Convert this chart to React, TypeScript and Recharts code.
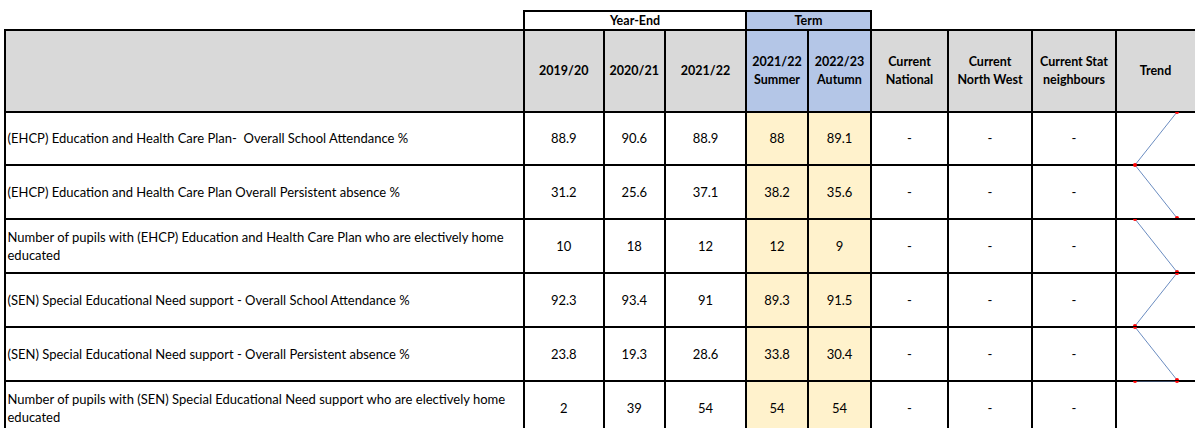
import React from 'react';
import { LineChart, Line, XAxis, YAxis } from 'recharts';

const years = ['2019/20', '2020/21', '2021/22'];
const terms = ['2021/22 Summer', '2022/23 Autumn'];
const comparators = ['Current National', 'Current North West', 'Current Stat neighbours'];

const measures = [
  '(EHCP) Education and Health Care Plan-  Overall School Attendance %',
  '(EHCP) Education and Health Care Plan Overall Persistent absence %',
  'Number of pupils with (EHCP) Education and Health Care Plan who are electively home educated',
  '(SEN) Special Educational Need support - Overall School Attendance %',
  '(SEN) Special Educational Need support - Overall Persistent absence %',
  'Number of pupils with (SEN) Special Educational Need support who are electively home educated',
];

const yearValues = [
  [88.9, 90.6, 88.9],
  [31.2, 25.6, 37.1],
  [10, 18, 12],
  [92.3, 93.4, 91],
  [23.8, 19.3, 28.6],
  [2, 39, 54],
];

const termValues = [
  [88, 89.1],
  [38.2, 35.6],
  [12, 9],
  [89.3, 91.5],
  [33.8, 30.4],
  [54, 54],
];

// table geometry (border centre lines)
const colX = [4.5, 524, 603.5, 665, 746, 808, 871, 948, 1032, 1116, 1195];
const rowY = [111.5, 164.5, 218.5, 272.5, 326.5, 380.5, 434.5];
const bandTop = 11;
const headTop = 30;

const FONT = 'Lato, "Open Sans", sans-serif';
const GREY = '#d9d9d9';
const BLUE = '#b4c6e7';
const CREAM = '#fff2cc';

function Cell({ x0, x1, y0, y1, bg, bold, align = 'center', children }: any) {
  return (
    <div
      style={{
        position: 'absolute',
        left: x0,
        top: y0,
        width: x1 - x0,
        height: y1 - y0,
        background: bg,
        display: 'flex',
        alignItems: 'center',
        justifyContent: align === 'left' ? 'flex-start' : 'center',
        textAlign: align,
        fontWeight: bold ? 700 : 400,
        fontSize: bold ? 12.5 : 13,
        lineHeight: '17.5px',
        whiteSpace: 'pre-wrap',
        padding: align === 'left' ? '2px 4px 0 3px' : bold ? '0 2px' : '2px 2px 0',
        boxSizing: 'border-box',
      }}
    >
      <span>{children}</span>
    </div>
  );
}

function HLine({ y, x0, x1 }: { y: number; x0: number; x1: number }) {
  return <div style={{ position: 'absolute', left: x0 - 1, top: y - 1, width: x1 - x0 + 2, height: 2, background: '#000' }} />;
}

function VLine({ x, y0, y1 }: { x: number; y0: number; y1: number }) {
  return <div style={{ position: 'absolute', left: x - 1, top: y0 - 1, width: 2, height: y1 - y0 + 2, background: '#000' }} />;
}

function Spark({ values }: { values: number[] }) {
  const data = terms.map((t, i) => ({ term: t, value: values[i] }));
  const lo = Math.min(...values);
  const hi = Math.max(...values);
  const domain = lo === hi ? [lo - 1, hi] : [lo, hi];
  return (
    <LineChart width={colX[10] - colX[9]} height={rowY[1] - rowY[0]} data={data} margin={{ top: 0, right: 18, bottom: 0, left: 19 }}>
      <XAxis dataKey="term" hide />
      <YAxis hide domain={domain} allowDataOverflow />
      <Line
        dataKey="value"
        stroke="#6a8cc0"
        strokeWidth={1}
        dot={{ r: 2, fill: '#ff0000', stroke: 'none' }}
        isAnimationActive={false}
      />
    </LineChart>
  );
}

export default function App() {
  const headerLabels = [...years, ...terms, ...comparators, 'Trend'];
  return (
    <div
      style={{
        position: 'absolute',
        left: 0,
        top: 0,
        width: 1195,
        height: 428,
        overflow: 'hidden',
        background: '#fff',
        fontFamily: FONT,
        color: '#000',
      }}
    >
      {/* band */}
      <Cell x0={colX[1]} x1={colX[4]} y0={bandTop} y1={headTop} bg="#fff" bold>Year-End</Cell>
      <Cell x0={colX[4]} x1={colX[6]} y0={bandTop} y1={headTop} bg={BLUE} bold>Term</Cell>

      {/* header row */}
      <Cell x0={colX[0]} x1={colX[1]} y0={headTop} y1={rowY[0]} bg={GREY} />
      {headerLabels.map((h, i) => {
        const isTerm = i === 3 || i === 4;
        const parts = h.split(' ');
        const label = isTerm ? (
          <>
            {parts[0]}
            <br />
            {parts[1]}
          </>
        ) : h === 'Current Stat neighbours' ? (
          <>
            Current Stat
            <br />
            neighbours
          </>
        ) : h.startsWith('Current') ? (
          <>
            {parts[0]}
            <br />
            {parts.slice(1).join(' ')}
          </>
        ) : (
          h
        );
        return (
          <Cell key={h} x0={colX[i + 1]} x1={colX[i + 2]} y0={headTop} y1={rowY[0]} bg={isTerm ? BLUE : GREY} bold>
            {label}
          </Cell>
        );
      })}

      {/* data rows */}
      {measures.map((m, r) => (
        <React.Fragment key={m}>
          <Cell x0={colX[0]} x1={colX[1]} y0={rowY[r]} y1={rowY[r + 1]} bg="#fff" align="left">
            {m}
          </Cell>
          {yearValues[r].map((v, i) => (
            <Cell key={'y' + i} x0={colX[i + 1]} x1={colX[i + 2]} y0={rowY[r]} y1={rowY[r + 1]} bg="#fff">
              {String(v)}
            </Cell>
          ))}
          {termValues[r].map((v, i) => (
            <Cell key={'t' + i} x0={colX[i + 4]} x1={colX[i + 5]} y0={rowY[r]} y1={rowY[r + 1]} bg={CREAM}>
              {String(v)}
            </Cell>
          ))}
          {comparators.map((c, i) => (
            <Cell key={c} x0={colX[i + 6]} x1={colX[i + 7]} y0={rowY[r]} y1={rowY[r + 1]} bg="#fff">
              -
            </Cell>
          ))}
        </React.Fragment>
      ))}

      {/* grid lines */}
      <HLine y={bandTop} x0={colX[1]} x1={colX[6]} />
      <HLine y={headTop} x0={colX[0]} x1={1200} />
      {rowY.map((y) => (
        <HLine key={y} y={y} x0={colX[0]} x1={1200} />
      ))}
      {colX.slice(0, 10).map((x, i) => (
        <VLine key={x} x={x} y0={i === 1 || i === 4 || i === 6 ? bandTop : headTop} y1={440} />
      ))}

      {/* sparklines sit on top of the borders, like Excel draws them */}
      {termValues.map((vals, r) => (
        <div key={'spark' + r} style={{ position: 'absolute', left: colX[9], top: rowY[r] }}>
          <Spark values={vals} />
        </div>
      ))}
    </div>
  );
}
